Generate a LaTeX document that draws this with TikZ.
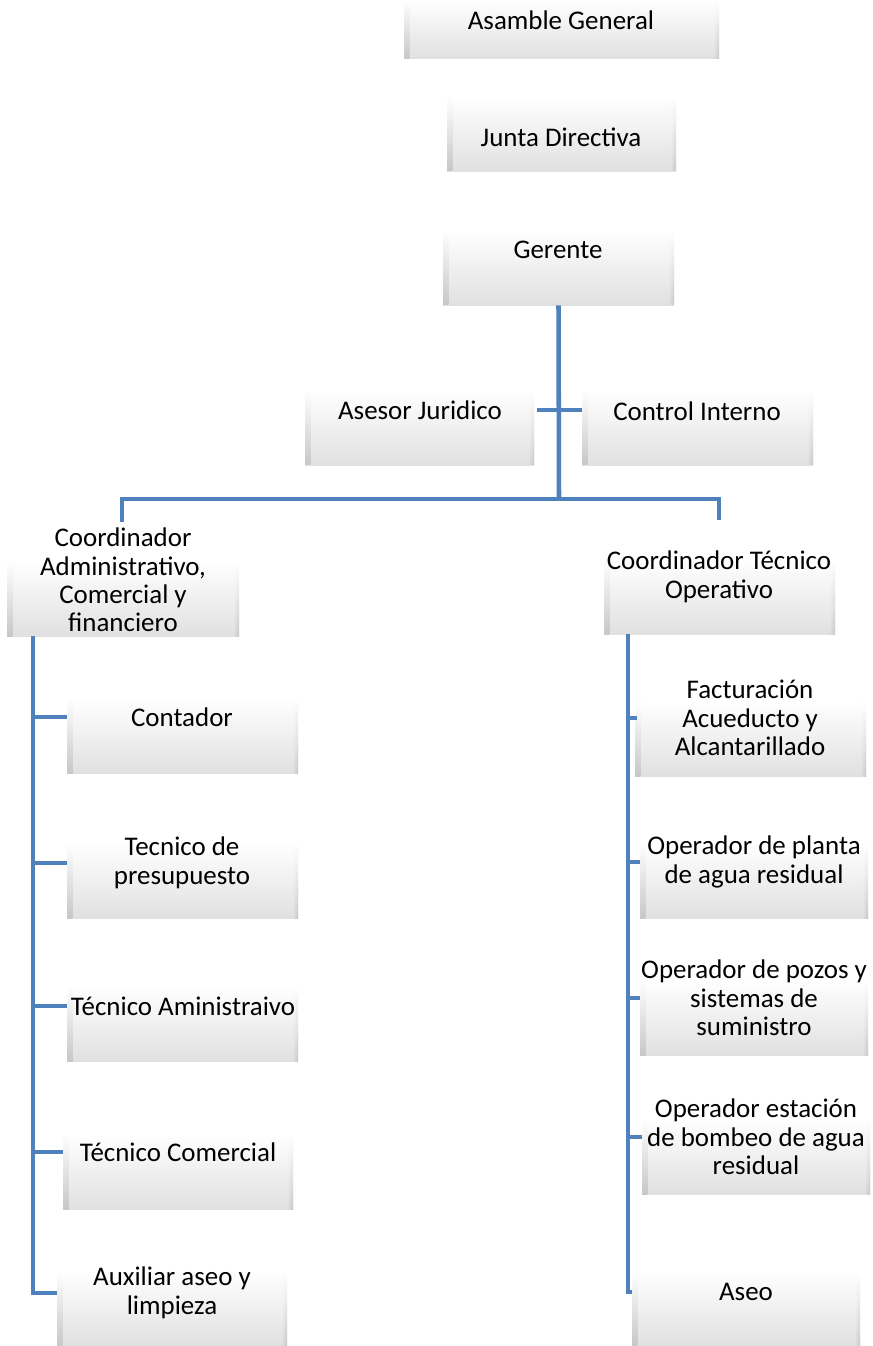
\documentclass[tikz,border=0pt]{standalone}
\usepackage{fontspec}
\setmainfont{Carlito}
\usetikzlibrary{fit,fadings}
\definecolor{linkblue}{RGB}{79,129,189}
\tikzset{
  x=0.75pt, y=-0.75pt,
  obox/.style={rectangle, inner sep=0pt, draw=none, top color=white, bottom color=black!12,
    path picture={
      \shade[top color=white, bottom color=black!22, path fading=east] (path picture bounding box.south west) rectangle ([xshift=4pt]path picture bounding box.north west);
      \shade[top color=white, bottom color=black!22, path fading=west] (path picture bounding box.south east) rectangle ([xshift=-4pt]path picture bounding box.north east);
    }},
  lbl/.style={align=center, inner sep=0pt, font=\fontsize{20.2}{21.3}\selectfont},
  conn/.style={draw=linkblue, line width=2.3pt},
  thickconn/.style={draw=linkblue, line width=3.4pt}
}
\begin{document}
\begin{tikzpicture}
\useasboundingbox (0,0) rectangle (872,1346);
% boxes
\node[obox, fit={(404,0) (719,58)}] (bag) {};
\node[obox, fit={(447,96) (676,171)}] (bjd) {};
\node[obox, fit={(443,230) (674,305)}] (bger) {};
\node[obox, fit={(305,390) (534,465)}] (base) {};
\node[obox, fit={(582,390) (813,465)}] (bctl) {};
\node[obox, fit={(7,561) (239,636)}] (bcadm) {};
\node[obox, fit={(604,559) (835,634)}] (bctec) {};
\node[obox, fit={(67,698) (298,773)}] (bcont) {};
\node[obox, fit={(67,843) (298,918)}] (bpres) {};
\node[obox, fit={(67,986) (298,1061)}] (btadm) {};
\node[obox, fit={(63,1134) (293,1209)}] (btcom) {};
\node[obox, fit={(57,1271) (287,1346)}] (baux) {};
\node[obox, fit={(635,701) (866,776)}] (bfac) {};
\node[obox, fit={(640,843) (868,918)}] (bopl) {};
\node[obox, fit={(640,980) (868,1055)}] (bopz) {};
\node[obox, fit={(642,1119) (870,1194)}] (boes) {};
\node[obox, fit={(632,1271) (860,1346)}] (baseo) {};
% texts
\node[lbl] (tag) at (561,20) {Asamble General};
\node[lbl] (tjd) at (561,137) {Junta Directiva};
\node[lbl] (tger) at (558,250) {Gerente};
\node[lbl] (tase) at (420,410) {Asesor Juridico};
\node[lbl] (tctl) at (697,411) {Control Interno};
\node[lbl] (tcadm) at (123,580) {Coordinador\\Administrativo,\\Comercial y\\financiero};
\node[lbl] (tctec) at (719,577) {Coordinador Técnico\\Operativo};
\node[lbl] (tcont) at (182,717) {Contador};
\node[lbl] (tpres) at (182,863) {Tecnico de\\presupuesto};
\node[lbl] (ttadm) at (183,1006) {Técnico Aministraivo};
\node[lbl] (ttcom) at (178,1152) {Técnico Comercial};
\node[lbl] (taux) at (172,1293) {Auxiliar aseo y\\limpieza};
\node[lbl] (tfac) at (750,718) {Facturación\\Acueducto y\\Alcantarillado};
\node[lbl] (topl) at (754,862) {Operador de planta\\de agua residual};
\node[lbl] (topz) at (754,998) {Operador de pozos y\\sistemas de\\suministro};
\node[lbl] (toes) at (756,1137) {Operador estación\\de bombeo de agua\\residual};
\node[lbl] (taseo) at (746,1292) {Aseo};
% connector points
\coordinate (hub) at (559,499);
\coordinate (ladm) at (122,522);
\coordinate (ltec) at (719,520);
\coordinate (lsp) at (33,636);
\coordinate (rsp) at (628,634);
% connectors
\draw[thickconn] (bger.south) -- (hub);
\draw[conn] (ladm) |- (hub);
\draw[conn] (hub) -| (ltec);
\draw[conn] ([xshift=2pt]base.east |- tase) -- (bctl.west |- tase);
\draw[conn] (lsp) |- (bcont.west |- tcont);
\draw[conn] (lsp) |- (bpres.west |- tpres);
\draw[conn] (lsp) |- (btadm.west |- ttadm);
\draw[conn] (lsp) |- (btcom.west |- ttcom);
\draw[conn] (lsp) |- (baux.west |- taux);
\draw[conn] (rsp) |- ([xshift=2pt]bfac.west |- tfac);
\draw[conn] (rsp) |- (bopl.west |- topl);
\draw[conn] (rsp) |- (bopz.west |- topz);
\draw[conn] (rsp) |- (boes.west |- toes);
\draw[conn] (rsp) |- (baseo.west |- taseo);
\end{tikzpicture}
\end{document}
